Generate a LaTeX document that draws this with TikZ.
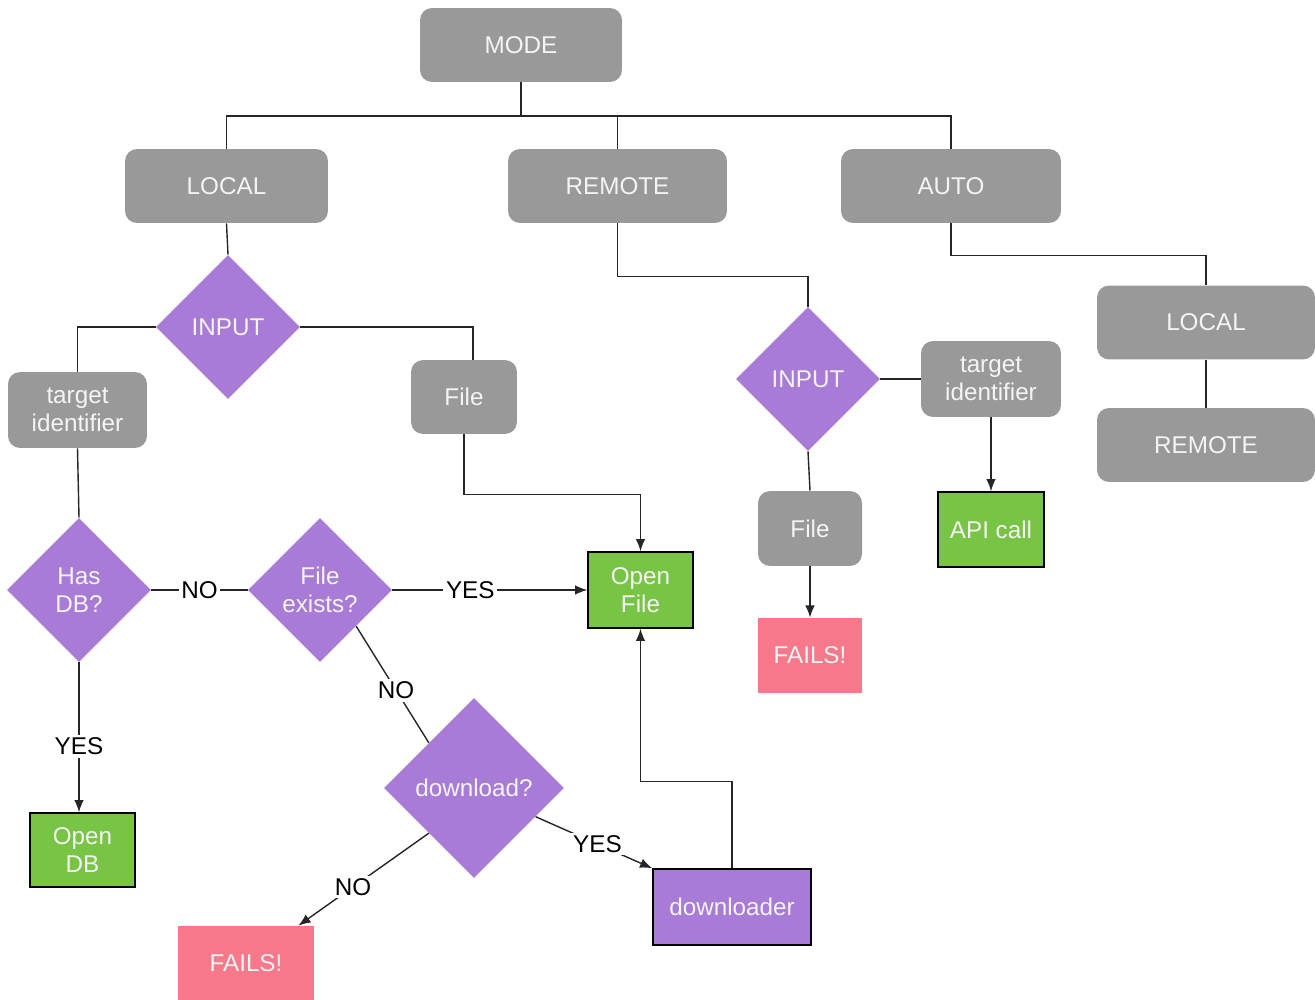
\documentclass[tikz,border=0pt]{standalone}
\usepackage{fontspec}
\setmainfont{Liberation Sans}
\usetikzlibrary{shapes.geometric,arrows.meta}

\definecolor{boxgray}{HTML}{999999}
\definecolor{decpurple}{HTML}{A77BD6}
\definecolor{okgreen}{HTML}{78C445}
\definecolor{failpink}{HTML}{F7788A}
\definecolor{lighttext}{HTML}{F4F4F4}

\tikzset{
  base/.style={text=lighttext, font=\fontsize{13.8}{16}\selectfont, align=center, inner sep=0pt},
  graybox/.style={base, fill=boxgray, rounded corners=0.24cm, minimum height=1.48cm},
  decision/.style={base, diamond, fill=decpurple, aspect=1},
  okbox/.style={base, rectangle, fill=okgreen, draw=black, line width=0.8pt},
  failbox/.style={base, rectangle, fill=failpink},
  workbox/.style={base, rectangle, fill=decpurple, draw=black, line width=0.8pt},
  link/.style={draw=black!85, line width=0.8pt},
  arrow/.style={link, -{Latex[length=7pt,width=5.5pt]}},
  tag/.style={fill=white, text=black, font=\fontsize{13.8}{16}\selectfont, inner sep=1.5pt}
}

\begin{document}
\begin{tikzpicture}[x=0.02cm, y=-0.02cm]
\useasboundingbox (0,0) rectangle (1315,1000);

% top level
\node[graybox, minimum width=4.04cm] (mode) at (521,45) {MODE};
\node[graybox, minimum width=4.06cm] (local) at (226.5,186) {LOCAL};
\node[graybox, minimum width=4.38cm] (remote) at (617.5,186) {REMOTE};
\node[graybox, minimum width=4.40cm] (auto) at (951,186) {AUTO};
\coordinate (bus) at (521,116);

% LOCAL branch
\node[decision, minimum width=2.88cm, minimum height=2.88cm] (in1) at (228,327) {INPUT};
\node[graybox, minimum width=2.78cm, minimum height=1.52cm] (tid1) at (77.5,410) {target\\identifier};
\node[graybox, minimum width=2.12cm] (file1) at (464,397) {File};
\node[decision, minimum width=2.88cm, minimum height=2.88cm] (hasdb) at (79,590) {Has\\DB?};
\node[decision, minimum width=2.88cm, minimum height=2.88cm] (fexists) at (320,590) {File\\exists?};
\node[okbox, minimum width=2.1cm, minimum height=1.52cm] (open) at (640.5,590) {Open\\File};
\node[okbox, minimum width=2.1cm, minimum height=1.48cm] (opendb) at (82.5,850) {Open\\DB};
\node[decision, minimum width=3.6cm, minimum height=3.6cm] (download) at (474,788) {download?};
\node[failbox, minimum width=2.72cm, minimum height=1.48cm] (fails1) at (246,963) {FAILS!};
\node[workbox, minimum width=3.16cm, minimum height=1.52cm] (dl) at (732,907) {downloader};

% REMOTE branch
\node[decision, minimum width=2.88cm, minimum height=2.88cm] (in2) at (808,379) {INPUT};
\node[graybox, minimum width=2.8cm, minimum height=1.52cm] (tid2) at (991,379) {target\\identifier};
\node[okbox, minimum width=2.12cm, minimum height=1.5cm] (api) at (991,529.5) {API call};
\node[graybox, minimum width=2.08cm, minimum height=1.5cm] (file2) at (810,528.5) {File};
\node[failbox, minimum width=2.08cm, minimum height=1.5cm] (fails2) at (810,655.5) {FAILS!};

% AUTO branch
\node[graybox, minimum width=4.36cm] (local2) at (1206,322.5) {LOCAL};
\node[graybox, minimum width=4.36cm] (remote2) at (1206,445) {REMOTE};

% mode tree
\draw[link] (mode.south) -- (bus);
\draw[link] (bus) -| (local.north);
\draw[link] (bus) -| (remote.north);
\draw[link] (bus) -| (auto.north);

% local input
\draw[link] (local.south) -- (in1.north);
\draw[link] (in1.west) -| (tid1.north);
\draw[link] (in1.east) -| ([xshift=0.18cm]file1.north);
\draw[arrow] (file1.south) -- ++(0,60) -| (open.north);
\draw[link] (tid1.south) -- (hasdb.north);
\draw[link] (hasdb.east) -- node[tag] {NO} (fexists.west);
\draw[arrow] (fexists.east) -- node[tag, pos=0.4] {YES} (open.west);
\draw[arrow] (hasdb.south) -- node[tag, pos=0.56] {YES} (hasdb.south |- opendb.north);
\draw[link] (fexists.south east) -- node[tag, pos=0.55] {NO} (download.north west);
\draw[arrow] (download.south west) -- node[tag, pos=0.58] {NO} ([xshift=-0.32cm]fails1.north east);
\draw[arrow] (download.-25) -- node[tag, pos=0.53] {YES} (dl.north west);
\draw[arrow] (dl.north) -- ++(0,-87) -| (open.south);

% remote input
\draw[link] (remote.south) -- ++(0,53) -| (in2.north);
\draw[link] (in2.east) -- (tid2.west);
\draw[arrow] (tid2.south) -- (api.north);
\draw[link] (in2.south) -- (file2.north);
\draw[arrow] (file2.south) -- (fails2.north);

% auto fallback
\draw[link] (auto.south) -- ++(0,32) -| (local2.north);
\draw[link] (local2.south) -- (remote2.north);
\end{tikzpicture}
\end{document}
